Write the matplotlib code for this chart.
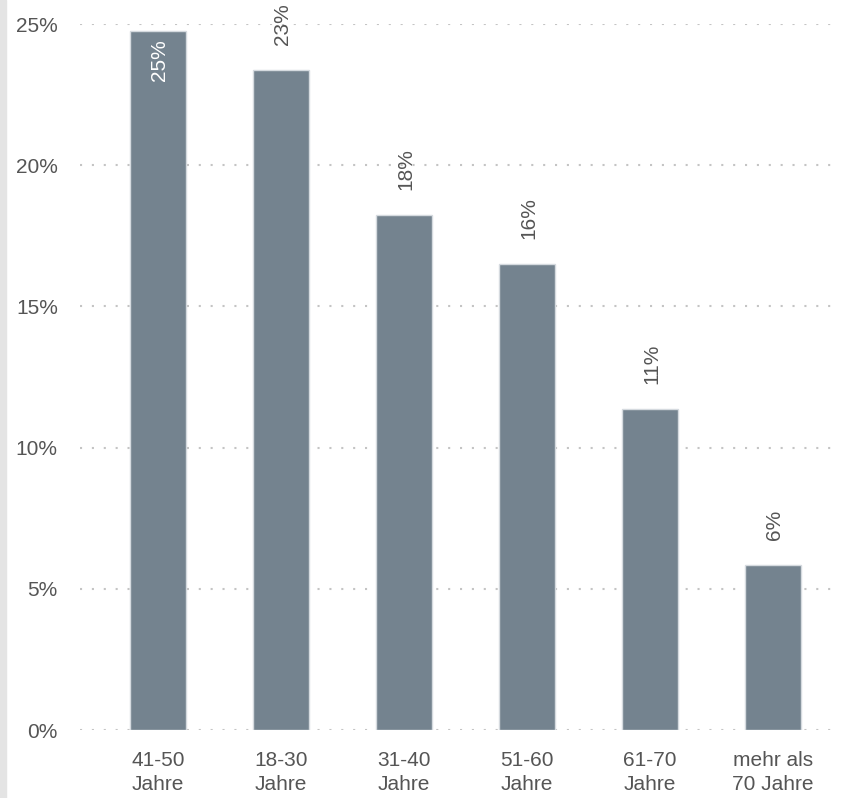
import matplotlib
matplotlib.use("Agg")
import matplotlib.pyplot as plt
from matplotlib.patches import Rectangle

categories = ["41-50\nJahre", "18-30\nJahre", "31-40\nJahre", "51-60\nJahre", "61-70\nJahre", "mehr als\n70 Jahre"]
values = [24.75, 23.37, 18.24, 16.5, 11.37, 5.84]
labels = ["25%", "23%", "18%", "16%", "11%", "6%"]
yticks = [0, 5, 10, 15, 20, 25]
ytick_labels = ["0%", "5%", "10%", "15%", "20%", "25%"]

plt.rcParams['font.family'] = ['Liberation Sans', 'DejaVu Sans']

W, H = 845, 798
fig = plt.figure(figsize=(W / 100, H / 100), dpi=100)
fig.patches.append(Rectangle((0, 0), 6 / W, 1, transform=fig.transFigure, color="#e4e4e4", zorder=0))

ax = fig.add_axes([80 / W, 1 - 730 / H, (835 - 80) / W, (730 - 24) / H])
x = list(range(len(categories)))
bars = ax.bar(x, values, width=0.46, color="#74838f", edgecolor="#d5dadf", linewidth=1, zorder=3)

ax.set_xlim(-0.634, 5.504)
ax.set_ylim(0, 25)
ax.set_yticks(yticks)
ax.set_yticklabels(ytick_labels)
ax.set_xticks(x)
ax.set_xticklabels(categories, linespacing=1.35)

for s in ax.spines.values():
    s.set_visible(False)
ax.tick_params(axis='both', length=0, labelsize=15, labelcolor="#555555")
ax.tick_params(axis='y', pad=16)
ax.tick_params(axis='x', pad=15)
ax.yaxis.grid(True, linestyle=(0, (1, 4.7)), color="#c4c4c4", linewidth=1.5, zorder=0)
ax.set_axisbelow(True)

for i, (v, lab) in enumerate(zip(values, labels)):
    if v > 24:
        ax.annotate(lab, (i, v), xytext=(1, -6), textcoords="offset points",
                    rotation=90, ha="center", va="top", fontsize=15, color="white", zorder=4)
    else:
        ax.annotate(lab, (i, v), xytext=(1, 18), textcoords="offset points",
                    rotation=90, ha="center", va="bottom", fontsize=15, color="#555555", zorder=4)

fig.savefig("out.png", dpi=100)
